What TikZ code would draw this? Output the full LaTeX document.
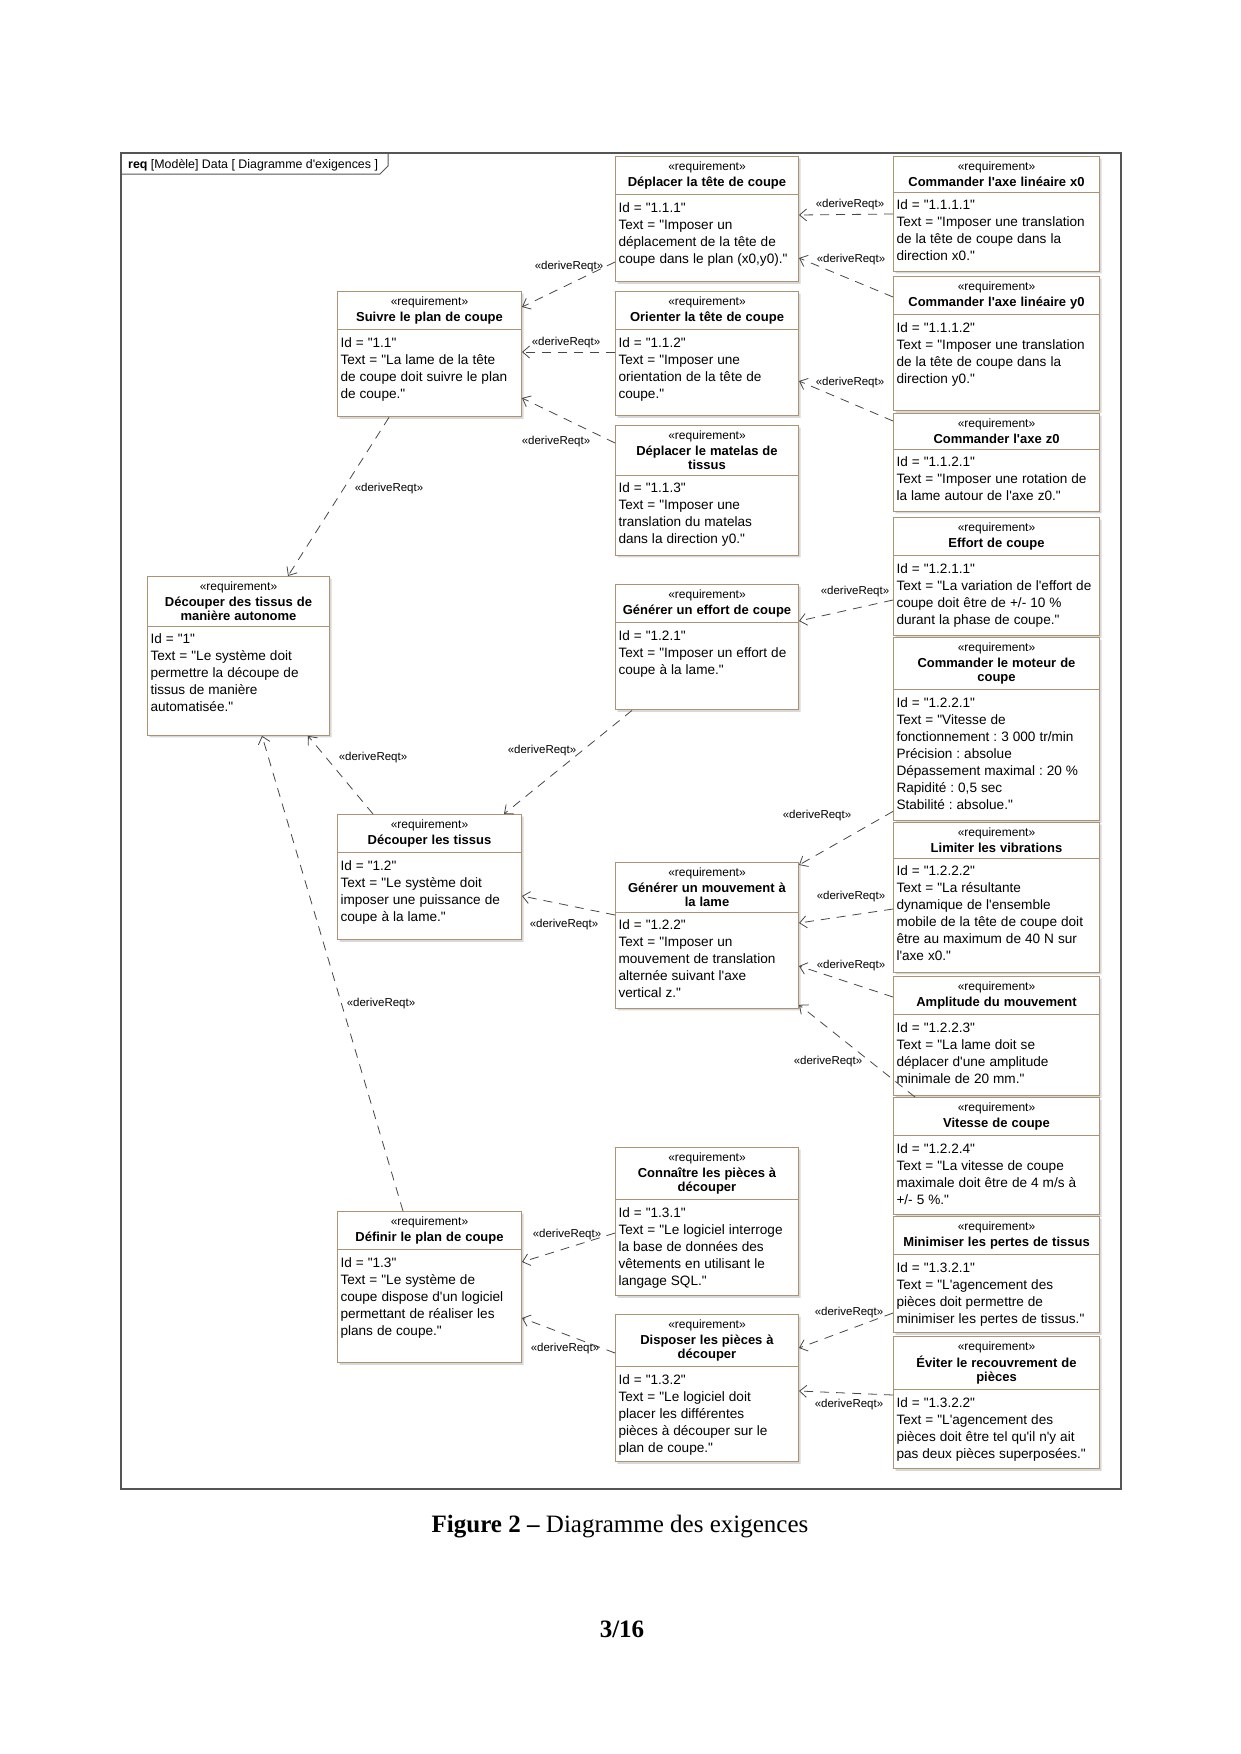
\documentclass[tikz,border=0pt]{standalone}
\usepackage{fontspec}
\setmainfont{Liberation Sans}[Ligatures=TeXOff]
\newfontfamily\captionfont{Liberation Serif}[Ligatures=TeXOff]
\usetikzlibrary{shapes.multipart,shadows,arrows.meta}

\definecolor{reqline}{RGB}{170,148,115}
\definecolor{frameline}{RGB}{85,85,85}
\definecolor{depline}{RGB}{70,70,70}

% body of a requirement: fixed height, left aligned
\newcommand{\reqtext}[2]{\parbox[t][#1pt][t]{\dimexpr\linewidth+20pt\relax}{\raggedright\frenchspacing\fontsize{13.6}{17}\selectfont\strut #2}}

\begin{document}
\begin{tikzpicture}[x=1pt,y=-1pt,
  req/.style={rectangle split, rectangle split parts=2, draw=reqline, line width=1pt, fill=white,
    drop shadow={shadow xshift=2pt,shadow yshift=-2pt,fill=black!30},
    anchor=north west, text width=#1, align=center, inner xsep=3pt, inner ysep=5pt,
    font=\fontsize{12}{14}\selectfont},
  dep/.style={draw=depline, line width=0.8pt, dash pattern=on 9pt off 7pt,
    -{Straight Barb[length=7pt,width=12pt]}},
  lbl/.style={font=\fontsize{11.5}{13}\selectfont, inner sep=0pt}]

\useasboundingbox (0,0) rectangle (1240,1754);

% frame
\draw[frameline, line width=1.4pt] (121,153) rectangle (1121,1489);
\draw[frameline, line width=1pt] (121,174) -- (380,174) -- (388,166) -- (388,153);
\node[anchor=base west, inner sep=0pt] (tab) at (128,168) {\fontsize{12.4}{14}\selectfont\textbf{req} [Modèle] Data [ Diagramme d'exigences ]};

% level 1
\node[req=176pt] (r1) at (147,576) {«requirement»\\[2pt]\textbf{\fontsize{13}{14}\selectfont Découper des tissus de\\manière autonome}\nodepart{two}\reqtext{98}{Id = "1"\\Text = "Le système doit\\permettre la découpe de\\tissus de manière\\automatisée."}};

% level 2
\node[req=178pt] (r11) at (337,291) {«requirement»\\[2pt]\textbf{\fontsize{13}{14}\selectfont Suivre le plan de coupe}\nodepart{two}\reqtext{76}{Id = "1.1"\\Text = "La lame de la tête\\de coupe doit suivre le plan\\de coupe."}};
\node[req=178pt] (r12) at (337,814) {«requirement»\\[2pt]\textbf{\fontsize{13}{14}\selectfont Découper les tissus}\nodepart{two}\reqtext{76}{Id = "1.2"\\Text = "Le système doit\\imposer une puissance de\\coupe à la lame."}};
\node[req=178pt] (r13) at (337,1211) {«requirement»\\[2pt]\textbf{\fontsize{13}{14}\selectfont Définir le plan de coupe}\nodepart{two}\reqtext{102}{Id = "1.3"\\Text = "Le système de\\coupe dispose d'un logiciel\\permettant de réaliser les\\plans de coupe."}};

% level 3
\node[req=177pt] (r111) at (615,156) {«requirement»\\[2pt]\textbf{\fontsize{13}{14}\selectfont Déplacer la tête de coupe}\nodepart{two}\reqtext{76}{Id = "1.1.1"\\Text = "Imposer un\\déplacement de la tête de\\coupe dans le plan (x0,y0)."}};
\node[req=177pt] (r112) at (615,291) {«requirement»\\[2pt]\textbf{\fontsize{13}{14}\selectfont Orienter la tête de coupe}\nodepart{two}\reqtext{75}{Id = "1.1.2"\\Text = "Imposer une\\orientation de la tête de\\coupe."}};
\node[req=177pt] (r113) at (615,425) {«requirement»\\[2pt]\textbf{\fontsize{13}{14}\selectfont Déplacer le matelas de\\tissus}\nodepart{two}\reqtext{69}{Id = "1.1.3"\\Text = "Imposer une\\translation du matelas\\dans la direction y0."}};
\node[req=177pt] (r121) at (615,584) {«requirement»\\[2pt]\textbf{\fontsize{13}{14}\selectfont Générer un effort de coupe}\nodepart{two}\reqtext{76}{Id = "1.2.1"\\Text = "Imposer un effort de\\coupe à la lame."}};
\node[req=177pt] (r122) at (615,862) {«requirement»\\[2pt]\textbf{\fontsize{13}{14}\selectfont Générer un mouvement à\\la lame}\nodepart{two}\reqtext{85}{Id = "1.2.2"\\Text = "Imposer un\\mouvement de translation\\alternée suivant l'axe\\vertical z."}};
\node[req=177pt] (r131) at (615,1147) {«requirement»\\[2pt]\textbf{\fontsize{13}{14}\selectfont Connaître les pièces à\\découper}\nodepart{two}\reqtext{85}{Id = "1.3.1"\\Text = "Le logiciel interroge\\la base de données des\\vêtements en utilisant le\\langage SQL."}};
\node[req=177pt] (r132) at (615,1314) {«requirement»\\[2pt]\textbf{\fontsize{13}{14}\selectfont Disposer les pièces à\\découper}\nodepart{two}\reqtext{84}{Id = "1.3.2"\\Text = "Le logiciel doit\\placer les différentes\\pièces à découper sur le\\plan de coupe."}};

% level 4
\node[req=200pt] (r1111) at (893,156) {«requirement»\\[2pt]\textbf{\fontsize{13}{14}\selectfont Commander l'axe linéaire x0}\nodepart{two}\reqtext{68}{Id = "1.1.1.1"\\Text = "Imposer une translation\\de la tête de coupe dans la\\direction x0."}};
\node[req=200pt] (r1112) at (893,276) {«requirement»\\[2pt]\textbf{\fontsize{13}{14}\selectfont Commander l'axe linéaire y0}\nodepart{two}\reqtext{85}{Id = "1.1.1.2"\\Text = "Imposer une translation\\de la tête de coupe dans la\\direction y0."}};
\node[req=200pt] (r1121) at (893,413) {«requirement»\\[2pt]\textbf{\fontsize{13}{14}\selectfont Commander l'axe z0}\nodepart{two}\reqtext{51}{Id = "1.1.2.1"\\Text = "Imposer une rotation de\\la lame autour de l'axe z0."}};
\node[req=200pt] (r1211) at (893,517) {«requirement»\\[2pt]\textbf{\fontsize{13}{14}\selectfont Effort de coupe}\nodepart{two}\reqtext{69}{Id = "1.2.1.1"\\Text = "La variation de l'effort de\\coupe doit être de +/- 10 \%\\durant la phase de coupe."}};
\node[req=200pt] (r1221) at (893,637) {«requirement»\\[2pt]\textbf{\fontsize{13}{14}\selectfont Commander le moteur de\\coupe}\nodepart{two}\reqtext{120}{Id = "1.2.2.1"\\Text = "Vitesse de\\fonctionnement : 3 000 tr/min\\Précision : absolue\\Dépassement maximal : 20 \%\\Rapidité : 0,5 sec\\Stabilité : absolue."}};
\node[req=200pt] (r1222) at (893,822) {«requirement»\\[2pt]\textbf{\fontsize{13}{14}\selectfont Limiter les vibrations}\nodepart{two}\reqtext{103}{Id = "1.2.2.2"\\Text = "La résultante\\dynamique de l'ensemble\\mobile de la tête de coupe doit\\être au maximum de 40 N sur\\l'axe x0."}};
\node[req=200pt] (r1223) at (893,976) {«requirement»\\[2pt]\textbf{\fontsize{13}{14}\selectfont Amplitude du mouvement}\nodepart{two}\reqtext{70}{Id = "1.2.2.3"\\Text = "La lame doit se\\déplacer d'une amplitude\\minimale de 20 mm."}};
\node[req=200pt] (r1224) at (893,1097) {«requirement»\\[2pt]\textbf{\fontsize{13}{14}\selectfont Vitesse de coupe}\nodepart{two}\reqtext{68}{Id = "1.2.2.4"\\Text = "La vitesse de coupe\\maximale doit être de 4 m/s à\\+/- 5 \%."}};
\node[req=200pt] (r1321) at (893,1216) {«requirement»\\[2pt]\textbf{\fontsize{13}{14}\selectfont Minimiser les pertes de tissus}\nodepart{two}\reqtext{67}{Id = "1.3.2.1"\\Text = "L'agencement des\\pièces doit permettre de\\minimiser les pertes de tissus."}};
\node[req=200pt] (r1322) at (893,1336) {«requirement»\\[2pt]\textbf{\fontsize{13}{14}\selectfont Éviter le recouvrement de\\pièces}\nodepart{two}\reqtext{68}{Id = "1.3.2.2"\\Text = "L'agencement des\\pièces doit être tel qu'il n'y ait\\pas deux pièces superposées."}};

% deriveReqt links, child -> parent
\draw[dep] ([yshift=-106pt]r111.north west) -- ([yshift=-16pt]r11.north east);
\draw[dep] ([yshift=-61pt]r112.north west) -- ([yshift=-61pt]r11.north east);
\draw[dep] ([yshift=-18pt]r113.north west) -- ([yshift=-107pt]r11.north east);
\draw[dep] ([xshift=52pt]r11.south west) -- ([xshift=141pt]r1.north west);
\draw[dep] ([yshift=-58pt]r1111.north west) -- ([yshift=-59pt]r111.north east);
\draw[dep] ([yshift=-21pt]r1112.north west) -- ([yshift=-102pt]r111.north east);
\draw[dep] ([yshift=-8pt]r1121.north west) -- ([yshift=-90pt]r112.north east);
\draw[dep] ([yshift=-83pt]r1211.north west) -- ([yshift=-37pt]r121.north east);
\draw[dep] ([xshift=17pt]r121.south west) -- ([xshift=-18pt]r12.north east);
\draw[dep] ([yshift=10pt]r1221.south west) -- ([yshift=-3pt]r122.north east);
\draw[dep] ([yshift=-87pt]r1222.north west) -- ([yshift=-61pt]r122.north east);
\draw[dep] ([yshift=-21pt]r1223.north west) -- ([yshift=-104pt]r122.north east);
\draw[dep] ([xshift=22pt]r1224.north west) -- ([yshift=4pt]r122.south east);
\draw[dep] ([yshift=-53pt]r122.north west) -- ([yshift=-82pt]r12.north east);
\draw[dep] ([xshift=36pt]r12.north west) -- ([xshift=161pt]r1.south west);
\draw[dep] ([xshift=66pt]r13.north west) -- ([xshift=115pt]r1.south west);
\draw[dep] ([yshift=-86pt]r131.north west) -- ([yshift=-51pt]r13.north east);
\draw[dep] ([yshift=-39pt]r132.north west) -- ([yshift=-107pt]r13.north east);
\draw[dep] ([yshift=-97pt]r1321.north west) -- ([yshift=-34pt]r132.north east);
\draw[dep] ([yshift=-59pt]r1322.north west) -- ([yshift=-77pt]r132.north east);

\node[lbl] (l1) at (569,267) {«deriveReqt»};
\node[lbl] (l2) at (566,343) {«deriveReqt»};
\node[lbl] (l3) at (556,442) {«deriveReqt»};
\node[lbl] (l4) at (389,489) {«deriveReqt»};
\node[lbl] (l5) at (850,205) {«deriveReqt»};
\node[lbl] (l6) at (851,260) {«deriveReqt»};
\node[lbl] (l7) at (850,383) {«deriveReqt»};
\node[lbl] (l8) at (855,592) {«deriveReqt»};
\node[lbl] (l9) at (542,751) {«deriveReqt»};
\node[lbl] (l10) at (817,816) {«deriveReqt»};
\node[lbl] (l11) at (851,897) {«deriveReqt»};
\node[lbl] (l12) at (851,966) {«deriveReqt»};
\node[lbl] (l13) at (828,1062) {«deriveReqt»};
\node[lbl] (l14) at (564,925) {«deriveReqt»};
\node[lbl] (l15) at (373,758) {«deriveReqt»};
\node[lbl] (l16) at (381,1004) {«deriveReqt»};
\node[lbl] (l17) at (567,1235) {«deriveReqt»};
\node[lbl] (l18) at (565,1349) {«deriveReqt»};
\node[lbl] (l19) at (849,1313) {«deriveReqt»};
\node[lbl] (l20) at (849,1405) {«deriveReqt»};

% caption and page number
\node[anchor=base, inner sep=0pt] (cap) at (620,1532) {\captionfont\fontsize{25}{30}\selectfont\textbf{Figure 2 –} Diagramme des exigences};
\node[anchor=base, inner sep=0pt] (page) at (622,1637) {\captionfont\fontsize{25}{30}\selectfont\textbf{3/16}};

\end{tikzpicture}
\end{document}
